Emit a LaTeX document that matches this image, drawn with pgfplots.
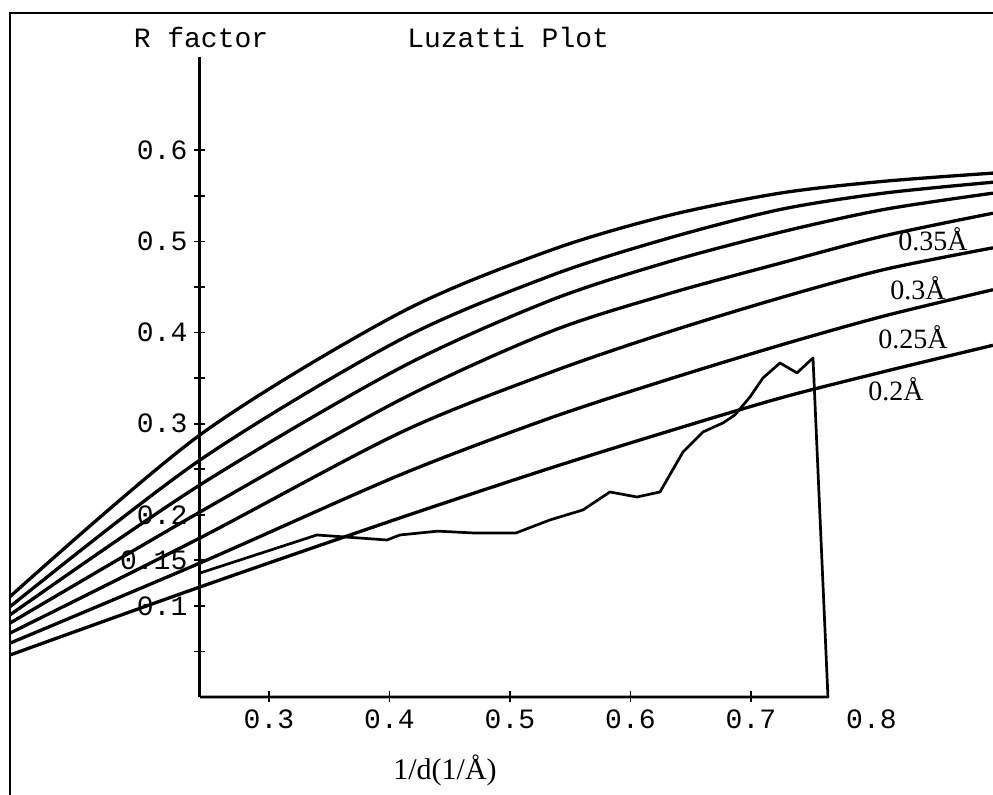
\documentclass[border=0pt]{standalone}
\usepackage{pgfplots}
\pgfplotsset{compat=1.18}
\usepackage{fontspec}
\setmainfont{Liberation Serif}
\setmonofont{Liberation Mono}
\begin{document}
\begin{tikzpicture}
\useasboundingbox (0,0) rectangle (496.5pt,397.5pt);
\begin{axis}[at={(0pt,0pt)}, anchor=south west, x=602.5pt, y=455.5pt,
  xmin=0.0768, xmax=0.9008, ymin=-0.1076, ymax=0.765, hide axis, clip=true,
  lz/.style={black, solid, line width=1.65pt, line join=round, smooth, no markers}]
% 0.2 A
\addplot[lz] coordinates {(0.085,0.046) (0.2427,0.1207) (0.4087,0.1965) (0.533,0.251) (0.63,0.291) (0.724,0.328) (0.81,0.357) (0.9008,0.386)};
% 0.25 A
\addplot[lz] coordinates {(0.085,0.059) (0.2427,0.147) (0.4087,0.2437) (0.533,0.306) (0.63,0.348) (0.724,0.386) (0.81,0.418) (0.9008,0.447)};
% 0.3 A
\addplot[lz] coordinates {(0.085,0.070) (0.2427,0.1745) (0.4087,0.290) (0.533,0.356) (0.63,0.400) (0.724,0.438) (0.81,0.469) (0.9008,0.493)};
% 0.35 A
\addplot[lz] coordinates {(0.085,0.081) (0.2427,0.203) (0.4087,0.326) (0.533,0.4007) (0.63,0.442) (0.724,0.476) (0.81,0.506) (0.9008,0.531)};
% 0.4 A
\addplot[lz] coordinates {(0.085,0.090) (0.2427,0.2327) (0.4087,0.361) (0.533,0.435) (0.63,0.477) (0.724,0.510) (0.81,0.535) (0.9008,0.553)};
% 0.45 A
\addplot[lz] coordinates {(0.085,0.099) (0.2427,0.260) (0.4087,0.392) (0.533,0.462) (0.63,0.503) (0.724,0.535) (0.81,0.553) (0.9008,0.565)};
% 0.5 A
\addplot[lz] coordinates {(0.085,0.110) (0.2427,0.2876) (0.4087,0.4215) (0.533,0.490) (0.63,0.528) (0.724,0.553) (0.81,0.566) (0.9008,0.575)};
% observed R factor (closed polygon down to the axis)
\addplot[black, solid, no markers, sharp plot, line width=1.35pt, line join=round] coordinates {
(0.2427,0.136) (0.3398,0.1778) (0.3979,0.1723) (0.4087,0.1778) (0.44,0.182) (0.47,0.180) (0.505,0.180)
(0.5332,0.1943) (0.5606,0.2053) (0.5830,0.2250) (0.6054,0.2195) (0.6245,0.2250) (0.6436,0.2689)
(0.6602,0.2909) (0.6768,0.3008) (0.6867,0.3096) (0.6992,0.3293) (0.7100,0.3502) (0.7241,0.3666)
(0.7382,0.3557) (0.7515,0.3721) (0.7639,0) (0.2427,0)};
\draw[line width=1.35pt] (axis cs:0.0851,-0.2) -- (axis cs:0.0851,0.7508) -- (axis cs:1,0.7508);
\node[anchor=base, font=\ttfamily\fontsize{14}{16}\selectfont, inner sep=0pt] at (axis cs:0.2436,0.7124) {R factor};
\node[anchor=base west, font=\ttfamily\fontsize{14}{16}\selectfont, inner sep=0pt] at (axis cs:0.4145,0.7124) {Luzatti Plot};
\node[anchor=base west, font=\fontsize{15}{17}\selectfont, inner sep=0pt] at (axis cs:0.4029,-0.0911) {1/d(1/Å)};
\node[anchor=base west, font=\fontsize{14}{16}\selectfont, inner sep=0pt] at (axis cs:0.822,0.4896) {0.35Å};
\node[anchor=base west, font=\fontsize{14}{16}\selectfont, inner sep=0pt] at (axis cs:0.8154,0.4366) {0.3Å};
\node[anchor=base west, font=\fontsize{14}{16}\selectfont, inner sep=0pt] at (axis cs:0.8054,0.3828) {0.25Å};
\node[anchor=base west, font=\fontsize{14}{16}\selectfont, inner sep=0pt] at (axis cs:0.7971,0.3253) {0.2Å};
\end{axis}
\begin{axis}[at={(99.95pt,49pt)}, anchor=south west, x=602.5pt, y=455.5pt,
  xmin=0.2427, xmax=0.765, ymin=0, ymax=0.703,
  axis x line=bottom, axis y line=left, axis line style={-, line width=1.4pt, black},
  clip=false, tick align=center, major tick length=5.5pt,
  tick style={line width=0.9pt, black},
  /pgf/number format/assume math mode=true,
  tick label style={font=\ttfamily\fontsize{14}{16}\selectfont},
  xtick={0.3,0.4,0.5,0.6,0.7}, xticklabels={0.3,0.4,0.5,0.6,0.7},
  ytick={0.1,0.15,0.2,0.3,0.4,0.5,0.6}, yticklabels={0.1,0.15,0.2,0.3,0.4,0.5,0.6},
  extra y ticks={0.05,0.25,0.35,0.45,0.55}, extra y tick labels={},
  extra y tick style={tick style={line width=0.9pt, black}}]
\node[anchor=north, font=\ttfamily\fontsize{14}{16}\selectfont] at (axis cs:0.8,0) [yshift=-2.75pt] {0.8};
\end{axis}
\end{tikzpicture}
\end{document}
